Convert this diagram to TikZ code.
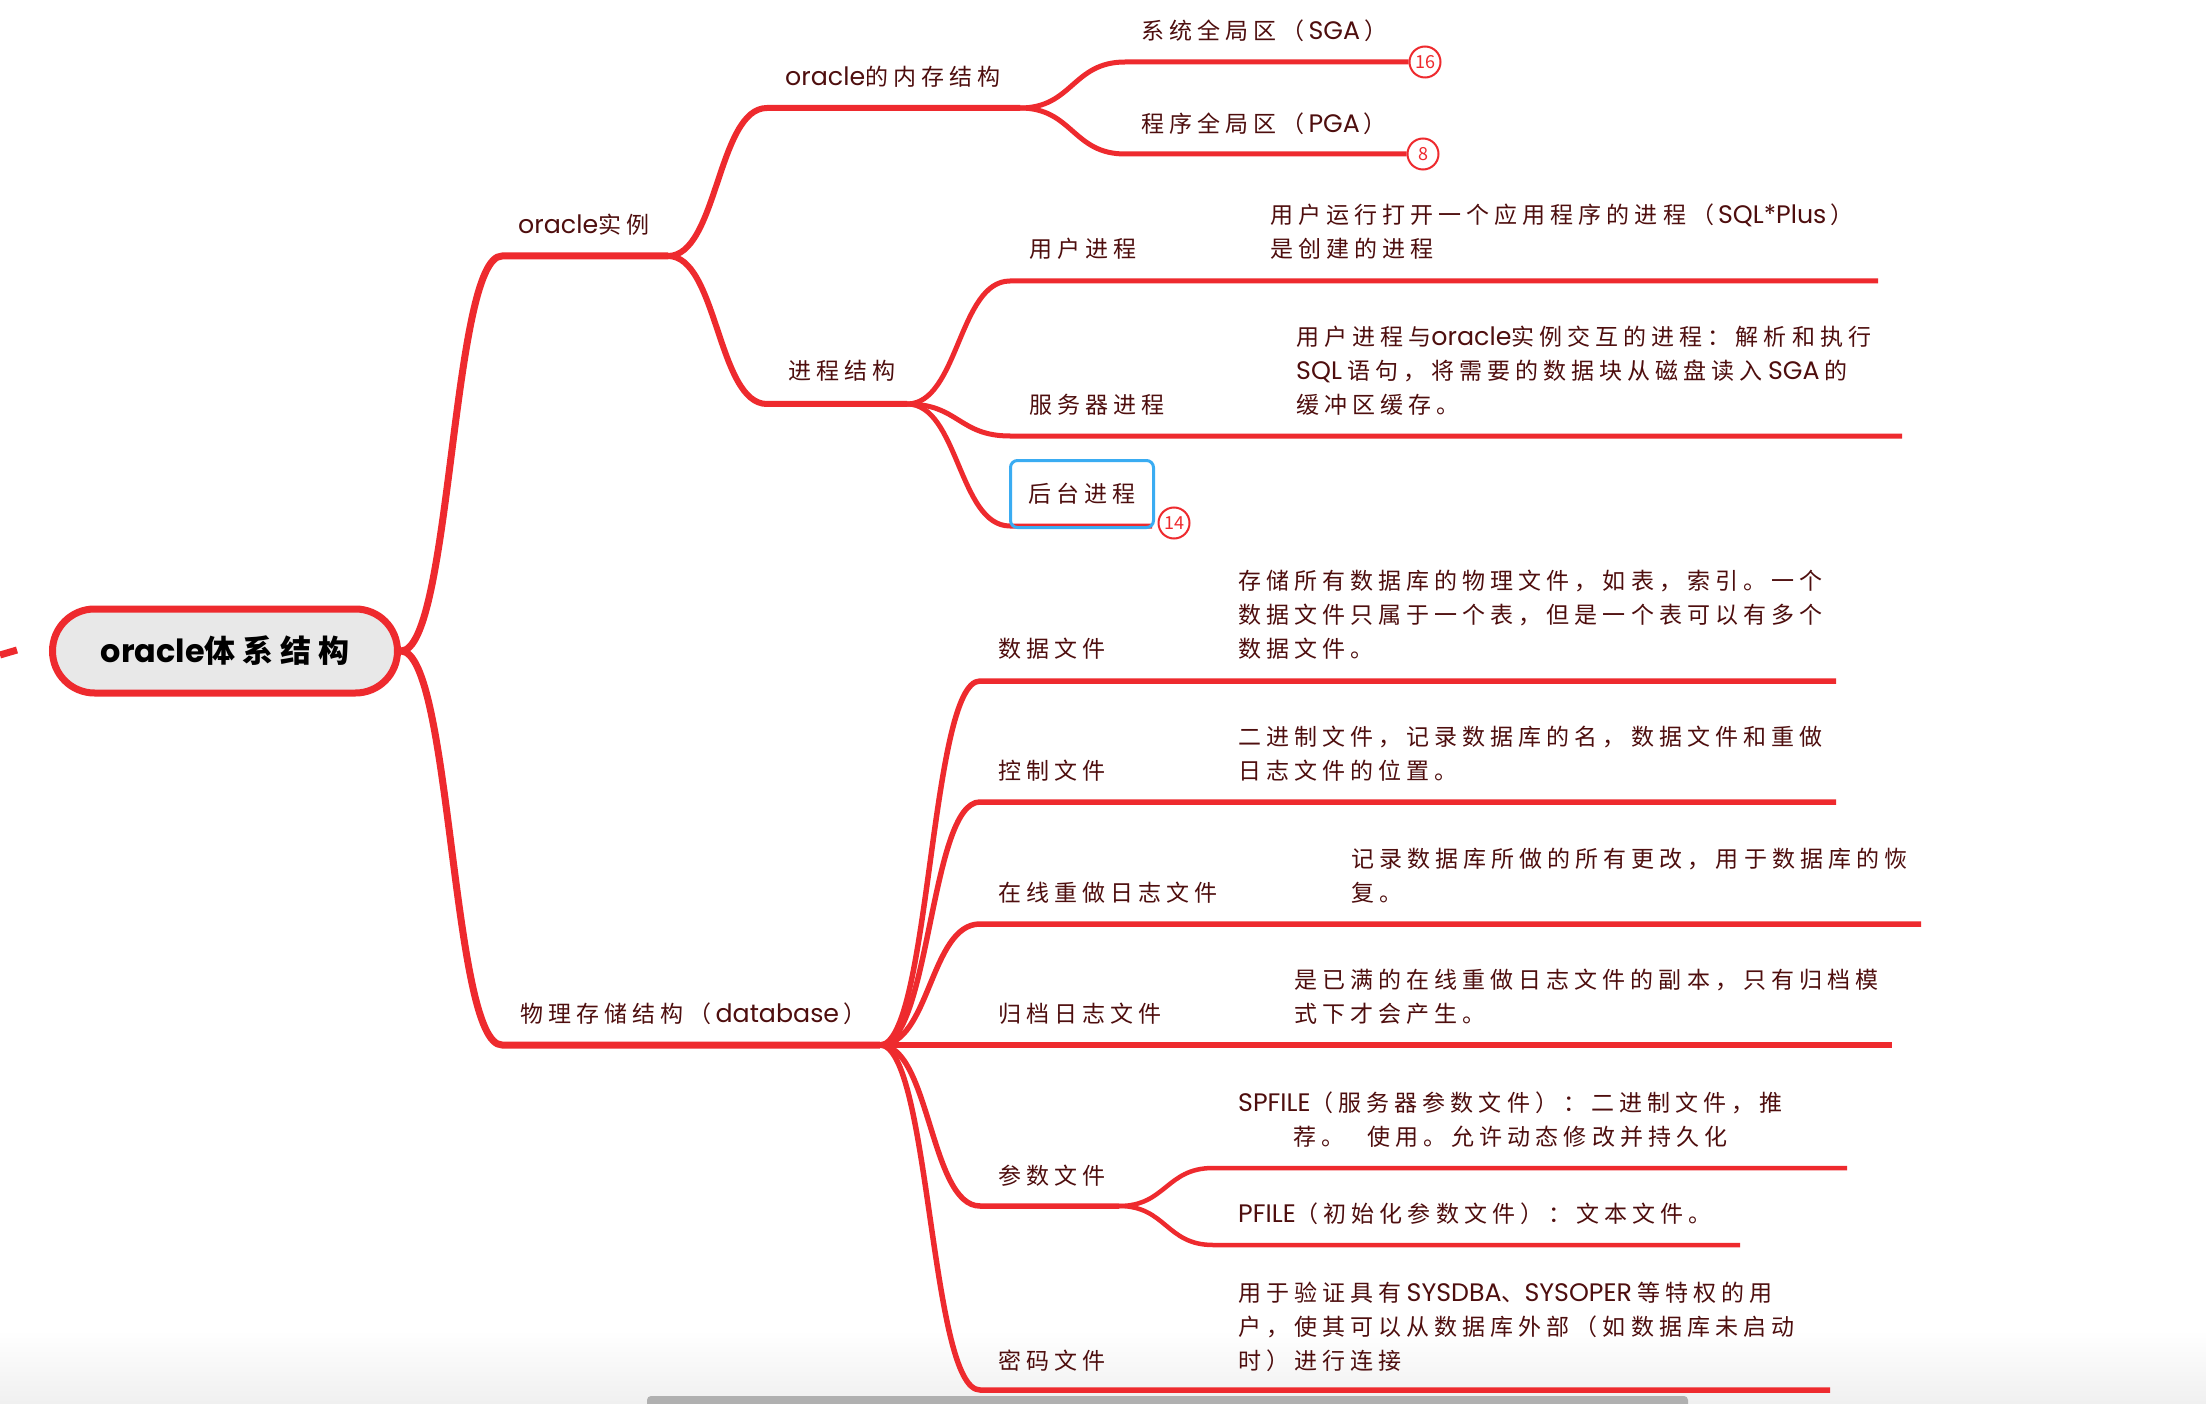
\documentclass[tikz,border=0pt]{standalone}
\usepackage{fontspec}
\setmainfont{Noto Sans CJK SC}
\newfontfamily\latf{Poppins}[Scale=1.1]
\newcommand\latw[1]{{\latf #1}}
\usetikzlibrary{calc}
\XeTeXinterchartokenstate=1
\newcount\cjkcnt
\cjkcnt="3000 \loop \XeTeXcharclass\cjkcnt=10 \advance\cjkcnt by 1 \ifnum\cjkcnt<"3040 \repeat
\cjkcnt="4E00 \loop \XeTeXcharclass\cjkcnt=10 \advance\cjkcnt by 1 \ifnum\cjkcnt<"A000 \repeat
\cjkcnt="FF00 \loop \XeTeXcharclass\cjkcnt=10 \advance\cjkcnt by 1 \ifnum\cjkcnt<"FFF0 \repeat
\XeTeXinterchartoks 10 10 = {\hskip0.22em\relax}
\definecolor{mmred}{HTML}{EE2A2E}
\definecolor{mmtext}{HTML}{4E0E0E}
\definecolor{mmblue}{HTML}{3AACF2}
\definecolor{rootfill}{HTML}{E8E8E8}
\newcommand\mmbranch[4]{%
  \draw[link, line width=#1] let \p1=(#2), \p2=(#3) in
    (\p1) .. controls ({0.5*\x1+0.5*\x2},\y1) and ({0.5*\x1+0.5*\x2},\y2) .. (\p2) -- (#4);}
\newcommand\bo{（\kern4pt}
\newcommand\bc{\kern4pt）}
\begin{document}
\begin{tikzpicture}[x=1pt,y=-1pt,
  link/.style={draw=mmred, line join=round},
  lab/.style={anchor=west, inner sep=0pt, text=mmtext, font=\fontsize{23}{34}\selectfont},
  note/.style={lab, align=left},
  badge/.style={circle, draw=mmred, line width=2pt, fill=white, minimum size=31pt,
    inner sep=0pt, text=mmred, font=\fontsize{18}{18}\selectfont}]
\useasboundingbox (0,0) rectangle (2206,1404);
\fill[white] (0,0) rectangle (2206,1404);
\shade[top color=white, bottom color=black!6] (0,1330) rectangle (2206,1404);
\fill[black!31, rounded corners=4pt] (647,1396) rectangle (1688,1412);

% root
\node[draw=mmred, line width=7pt, fill=rootfill, rounded corners=42pt,
  minimum width=345pt, minimum height=84pt, inner sep=0pt,
  font=\fontsize{31}{31}\selectfont\bfseries] (root) at (225,651) {{\latf\fontsize{29}{29}\selectfont oracle}体系结构};
\coordinate (stubA) at (0,655);
\coordinate (stubB) at (17,650);
\draw[link, line width=7pt] (stubA) -- (stubB);

% coordinates
\coordinate (A0) at (502,256);  \coordinate (A1) at (668,256);
\coordinate (B0) at (502,1045); \coordinate (B1) at (880,1045);
\coordinate (M0) at (767,108);  \coordinate (M1) at (1020,108);
\coordinate (P0) at (767,404);  \coordinate (P1) at (907,404);
\coordinate (S0) at (1125,62);
\coordinate (G0) at (1125,154);
\coordinate (U0) at (1010,281); \coordinate (U1) at (1878,281);
\coordinate (V0) at (1010,436); \coordinate (V1) at (1902,436);
\coordinate (H0) at (1010,526); \coordinate (H1) at (1152,526);
\coordinate (D0) at (980,681);  \coordinate (D1) at (1836,681);
\coordinate (C0) at (980,802);  \coordinate (C1) at (1836,802);
\coordinate (R0) at (980,924);  \coordinate (R1) at (1921,924);
\coordinate (Q0) at (980,1045); \coordinate (Q1) at (1892,1045);
\coordinate (K0) at (980,1206); \coordinate (K1) at (1119,1206);
\coordinate (SP0) at (1213,1168); \coordinate (SP1) at (1847,1168);
\coordinate (PF0) at (1213,1245); \coordinate (PF1) at (1740,1245);
\coordinate (W0) at (980,1390); \coordinate (W1) at (1830,1390);

% badges
\node[badge] (b16) at (1425,62) {16};
\node[badge] (b8) at (1423,154) {8};

% branches
\mmbranch{7pt}{root.east}{A0}{A1}
\mmbranch{7pt}{root.east}{B0}{B1}
\mmbranch{6pt}{A1}{M0}{M1}
\mmbranch{6pt}{A1}{P0}{P1}
\mmbranch{5pt}{M1}{S0}{b16.west}
\mmbranch{5pt}{M1}{G0}{b8.west}
\mmbranch{5pt}{P1}{U0}{U1}
\mmbranch{5pt}{P1}{V0}{V1}
\mmbranch{5pt}{P1}{H0}{H1}
\mmbranch{5.5pt}{B1}{D0}{D1}
\mmbranch{5.5pt}{B1}{C0}{C1}
\mmbranch{5.5pt}{B1}{R0}{R1}
\mmbranch{5.5pt}{B1}{Q0}{Q1}
\mmbranch{5.5pt}{B1}{K0}{K1}
\mmbranch{5.5pt}{B1}{W0}{W1}
\mmbranch{4.5pt}{K1}{SP0}{SP1}
\mmbranch{4.5pt}{K1}{PF0}{PF1}

\node[badge] (b14) at (1174,523) {14};

% labels
\node[lab] (tA) at (518,225) {\latw{oracle}实例};
\node[lab] (tB) at (520,1014) {物理存储结构\bo\latw{database}\bc};
\node[lab] (tM) at (785,77) {\latw{oracle}的内存结构};
\node[lab] (tP) at (788,371) {进程结构};
\node[lab] (tS) at (1141,31) {系统全局区\bo\latw{SGA}\bc};
\node[lab] (tG) at (1141,124) {程序全局区\bo\latw{PGA}\bc};
\node[lab] (tU) at (1029,249) {用户进程};
\node[note] (nU) at (1270,232) {用户运行打开一个应用程序的进程\bo\latw{SQL*Plus}\bc\\是创建的进程};
\node[lab] (tV) at (1029,405) {服务器进程};
\node[note] (nV) at (1296,371) {用户进程与\latw{oracle}实例交互的进程：解析和执行\\\latw{SQL} 语句，将需要的数据块从磁盘读入 \latw{SGA} 的\\缓冲区缓存。};
\node[lab, anchor=center, draw=mmblue, line width=3pt, rounded corners=7pt,
  minimum width=143pt, minimum height=67pt] (tH) at (1082,494) {后台进程};
\node[lab] (tD) at (998,649) {数据文件};
\node[note] (nD) at (1238,615) {存储所有数据库的物理文件，如表，索引。一个\\数据文件只属于一个表，但是一个表可以有多个\\数据文件。};
\node[lab] (tC) at (998,771) {控制文件};
\node[note] (nC) at (1238,754) {二进制文件，记录数据库的名，数据文件和重做\\日志文件的位置。};
\node[lab] (tR) at (998,893) {在线重做日志文件};
\node[note] (nR) at (1351,876) {记录数据库所做的所有更改，用于数据库的恢\\复。};
\node[lab] (tQ) at (998,1014) {归档日志文件};
\node[note] (nQ) at (1294,997) {是已满的在线重做日志文件的副本，只有归档模\\式下才会产生。};
\node[lab] (tK) at (998,1176) {参数文件};
\node[lab, align=center] (nSP) at (1238,1120) {\latw{SPFILE}（服务器参数文件）：二进制文件，推\\荐。\hspace{1em}使用。允许动态修改并持久化};
\node[lab] (nPF) at (1238,1214) {\latw{PFILE}（初始化参数文件）：文本文件。};
\node[lab] (tW) at (998,1361) {密码文件};
\node[note] (nW) at (1238,1327) {用于验证具有 \latw{SYSDBA}、\latw{SYSOPER} 等特权的用\\户，使其可以从数据库外部（如数据库未启动\\时）进行连接};
\end{tikzpicture}
\end{document}
